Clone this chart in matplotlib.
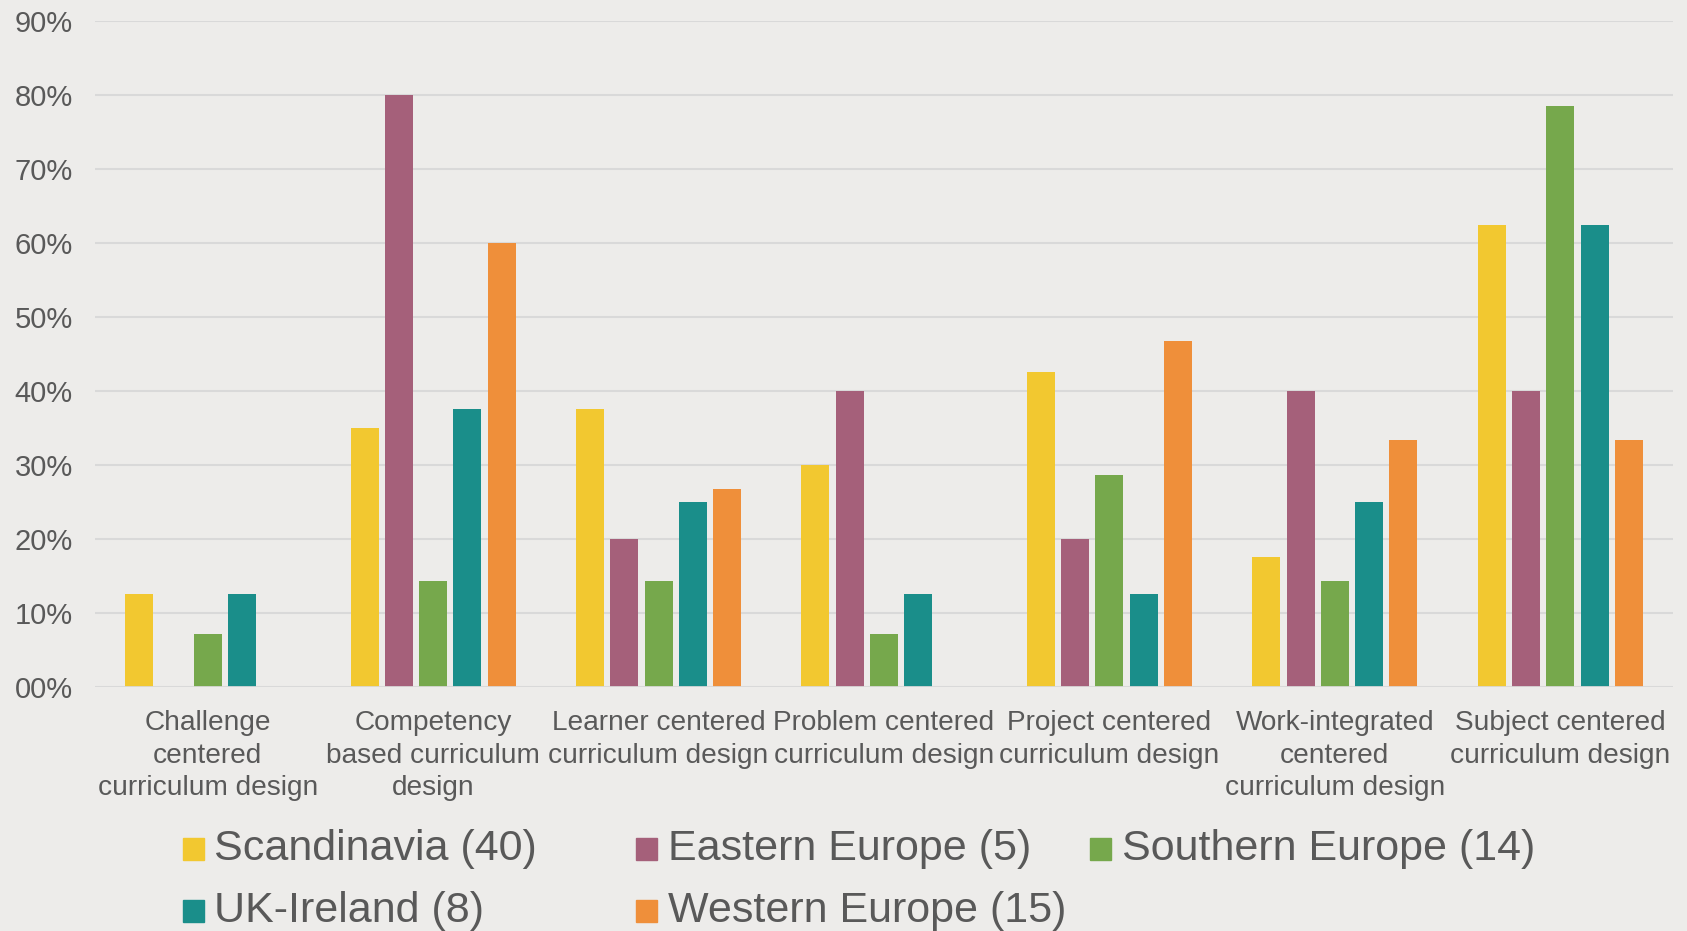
import numpy as np
import matplotlib.pyplot as plt
from matplotlib.patches import Rectangle

plt.rcParams['font.family'] = ['Liberation Sans', 'DejaVu Sans']

categories = ["Challenge\ncentered\ncurriculum design",
              "Competency\nbased curriculum\ndesign",
              "Learner centered\ncurriculum design",
              "Problem centered\ncurriculum design",
              "Project centered\ncurriculum design",
              "Work-integrated\ncentered\ncurriculum design",
              "Subject centered\ncurriculum design"]

series_names = ["Scandinavia (40)", "Eastern Europe (5)", "Southern Europe (14)",
                "UK-Ireland (8)", "Western Europe (15)"]

scandinavia = [0.125, 0.35, 0.375, 0.30, 0.425, 0.175, 0.625]
eastern = [0.0, 0.80, 0.20, 0.40, 0.20, 0.40, 0.40]
southern = [0.071, 0.143, 0.143, 0.071, 0.286, 0.143, 0.786]
uk_ireland = [0.125, 0.375, 0.25, 0.125, 0.125, 0.25, 0.625]
western = [0.0, 0.60, 0.267, 0.0, 0.467, 0.333, 0.333]

colors = ["#F2C830", "#A5607A", "#76A84C", "#1A8E8A", "#EF8F3A"]
bg = "#EDECEA"
txt = "#595959"

fig = plt.figure(figsize=(16.87, 9.31), dpi=100, facecolor=bg)
ax = fig.add_axes([0.0563, 0.2626, 0.9354, 0.7144], facecolor=bg)

x = np.arange(len(categories))
step = 0.152
width = 0.124
all_series = [scandinavia, eastern, southern, uk_ireland, western]
for i, vals in enumerate(all_series):
    ax.bar(x + (i - 2) * step, vals, width, color=colors[i], zorder=3,
           label=series_names[i])

ax.set_xlim(-0.5, len(categories) - 0.5)
ax.set_ylim(0, 0.9)
ax.set_yticks(np.arange(0, 0.91, 0.1))
ax.set_yticklabels([f"{int(round(v * 100)):02d}%" for v in np.arange(0, 0.91, 0.1)],
                   fontsize=21)
ax.set_xticks(x)
ax.set_xticklabels(categories, fontsize=20.2, linespacing=1.32)
ax.tick_params(axis='both', length=0, colors=txt)
ax.tick_params(axis='y', pad=16)
ax.tick_params(axis='x', pad=17)
ax.grid(axis='y', color="#D9D9D9", linewidth=1.5, zorder=0)
for s in ax.spines.values():
    s.set_visible(False)
ax.axhline(0, color="#D9D9D9", linewidth=2, zorder=4)

# legend laid out in a fixed 3-column grid
col_x = [0.1085, 0.3772, 0.6463]
row_base = [0.0763, 0.0097]
for i, name in enumerate(series_names):
    r, c = divmod(i, 3)
    fig.patches.append(Rectangle((col_x[c], row_base[r]), 0.0125, 0.0235,
                                 transform=fig.transFigure, color=colors[i]))
    fig.text(col_x[c] + 0.0185, row_base[r], name, fontsize=31, color=txt,
             va='baseline', ha='left')

fig.savefig("out.png", dpi=100, facecolor=bg)
